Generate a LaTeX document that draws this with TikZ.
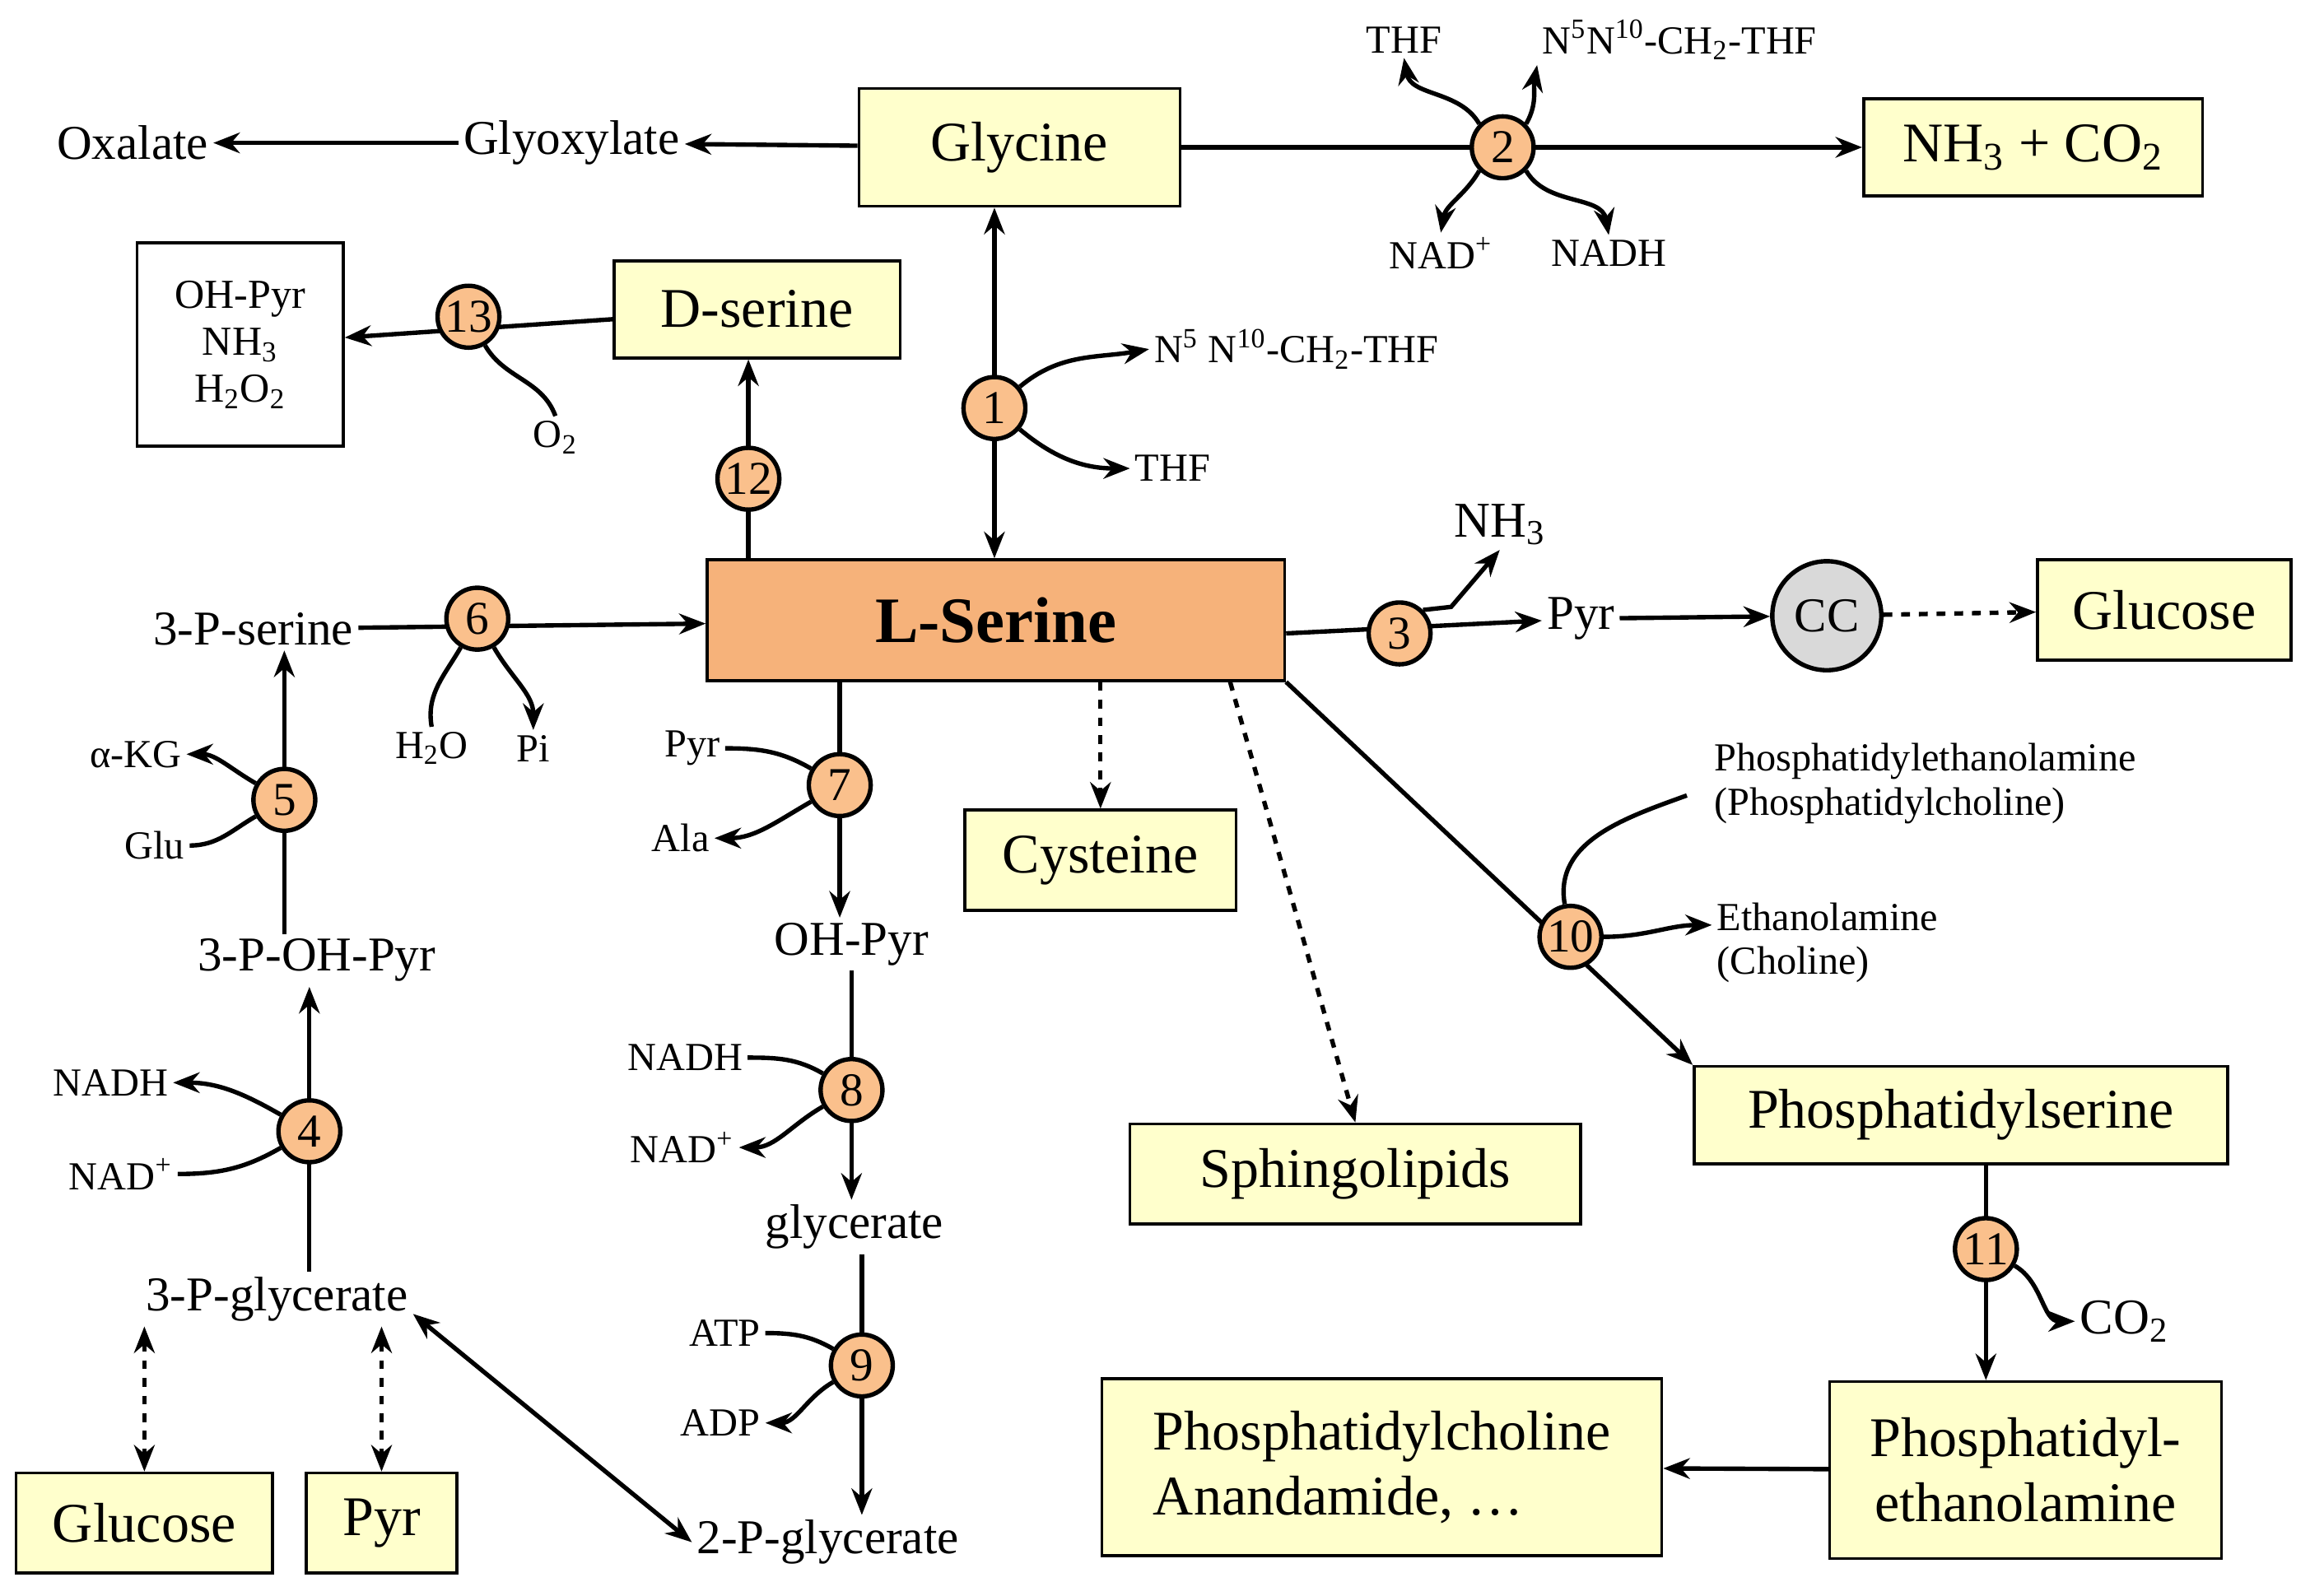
\documentclass[tikz,border=0pt]{standalone}
\usepackage{fontspec}
\setmainfont{Liberation Serif}
\usetikzlibrary{arrows.meta}
\usetikzlibrary{backgrounds}
\usetikzlibrary{shapes}
\definecolor{boxyellow}{RGB}{255,255,204}
\definecolor{enzorange}{RGB}{250,192,140}
\definecolor{serorange}{RGB}{246,178,122}
\newcommand{\pgfdefaultlinewidth}{1.5pt}
\newcommand{\sub}[1]{\textsubscript{#1}}
\newcommand{\sups}[1]{\textsuperscript{#1}}

\begin{document}
\begin{tikzpicture}[x = 0.5pt, y = -0.5pt, line width = \pgfdefaultlinewidth,
                    >={Stealth[length=9pt,width=7pt]},
                    route/.style = {line width = 1.5pt},
                    enzyme/.style = {draw, circle, fill = enzorange, inner sep = 0pt, minimum size = 21pt, font = \fontsize{16}{16}\selectfont},
                    product/.style = {draw, fill = boxyellow, line width = 1pt, align = center, font = \fontsize{19}{22}\selectfont, inner sep = 0pt},
                    metab/.style = {font = \fontsize{16.5}{19}\selectfont, inner sep = 1pt},
                    cofac/.style = {font = \fontsize{13.5}{15}\selectfont, inner sep = 1pt, align = left}]

    \useasboundingbox (0,0) rectangle (1568,1083);

    % boxes
    \node[product, minimum width = 109pt, minimum height = 40pt] (gly) at (692,100) {Glycine};
    \node[product, minimum width = 115pt, minimum height = 33pt] (nhco) at (1380,100) {NH\sub{3} + CO\sub{2}};
    \node[product, minimum width = 97pt, minimum height = 33pt] (dser) at (514,210) {D-serine};
    \node[draw, fill = white, line width = 1pt, align = center, minimum width = 70pt, minimum height = 69pt,
          font = \fontsize{14}{16}\selectfont] (ohbox) at (163,234) {OH-Pyr\\NH\sub{3}\\H\sub{2}O\sub{2}};
    \node[product, fill = serorange, minimum width = 196pt, minimum height = 41pt,
          font = \fontsize{22}{25}\selectfont\bfseries] (lser) at (676,421) {L-Serine};
    \node[product, minimum width = 86pt, minimum height = 34pt] (glucr) at (1469,414) {Glucose};
    \node[product, minimum width = 92pt, minimum height = 34pt] (cys) at (747,584) {Cysteine};
    \node[product, minimum width = 153pt, minimum height = 34pt] (sph) at (920,797) {Sphingolipids};
    \node[product, minimum width = 181pt, minimum height = 33pt] (pser) at (1331,757) {Phosphatidylserine};
    \node[product, minimum width = 133pt, minimum height = 60pt] (pe) at (1375,998) {Phosphatidyl-\\ethanolamine};
    \node[product, minimum width = 190pt, minimum height = 60pt, align = left] (pc) at (938,996) {Phosphatidylcholine\\Anandamide, \dots};
    \node[product, minimum width = 87pt, minimum height = 34pt] (glucl) at (98,1034) {Glucose};
    \node[product, minimum width = 51pt, minimum height = 34pt] (pyrb) at (259,1034) {Pyr};

    % metabolites
    \node[metab] (oxa) at (90,97) {Oxalate};
    \node[metab] (glyox) at (388,97) {Glyoxylate};
    \node[metab] (tpser) at (172,427) {3-P-serine};
    \node[metab] (tpohp) at (215,652) {3-P-OH-Pyr};
    \node[metab] (tpgly) at (188,882) {3-P-glycerate};
    \node[metab] (ohpyr) at (578,641) {OH-Pyr};
    \node[metab] (glyc) at (580,833) {glycerate};
    \node[metab] (twopg) at (562,1047) {2-P-glycerate};
    \node[metab] (pyr) at (1073,420) {Pyr};
    \node[draw, circle, fill = black!15, minimum size = 37pt, inner sep = 0pt, metab] (cc) at (1240,418) {CC};

    % enzymes
    \node[enzyme] (e1) at (675,277) {1};
    \node[enzyme] (e2) at (1020,100) {2};
    \node[enzyme] (e3) at (950,430) {3};
    \node[enzyme] (e4) at (210,768) {4};
    \node[enzyme] (e5) at (193,543) {5};
    \node[enzyme] (e6) at (324,420) {6};
    \node[enzyme] (e7) at (570,533) {7};
    \node[enzyme] (e8) at (578,740) {8};
    \node[enzyme] (e9) at (585,927) {9};
    \node[enzyme] (e10) at (1066,636) {10};
    \node[enzyme] (e11) at (1348,848) {11};
    \node[enzyme] (e12) at (508,325) {12};
    \node[enzyme] (e13) at (318,215) {13};

    % cofactors
    \node[cofac] (thf2) at (953,27) {THF};
    \node[cofac] (mthf2) at (1140,27) {N\sups{5}N\sups{10}-CH\sub{2}-THF};
    \node[cofac] (nad2) at (978,172) {NAD\sups{+}};
    \node[cofac] (nadh2) at (1092,172) {NADH};
    \node[cofac] (mthf1) at (880,237) {N\sups{5} N\sups{10}-CH\sub{2}-THF};
    \node[cofac] (thf1) at (796,318) {THF};
    \node[cofac] (otwo) at (377,297) {O\sub{2}};
    \node[cofac, font = \fontsize{17}{19}\selectfont] (nhthree) at (1018,356) {NH\sub{3}};
    \node[cofac] (water) at (293,508) {H\sub{2}O};
    \node[cofac] (pi) at (362,508) {Pi};
    \node[cofac] (akg) at (92,512) {α-KG};
    \node[cofac] (glu) at (105,574) {Glu};
    \node[cofac] (nadh4) at (75,735) {NADH};
    \node[cofac] (nad4) at (82,797) {NAD\sups{+}};
    \node[cofac] (pyr7) at (470,508) {Pyr};
    \node[cofac] (ala) at (462,569) {Ala};
    \node[cofac] (nadh8) at (465,718) {NADH};
    \node[cofac] (nad8) at (463,779) {NAD\sups{+}};
    \node[cofac] (atp) at (492,905) {ATP};
    \node[cofac] (adp) at (489,966) {ADP};
    \node[cofac, anchor = west] (pecho) at (1160,532) {Phosphatidylethanolamine\\(Phosphatidylcholine)};
    \node[cofac, anchor = west] (etha) at (1162,640) {Ethanolamine\\(Choline)};
    \node[cofac, font = \fontsize{17}{19}\selectfont] (cotwo) at (1442,897) {CO\sub{2}};
    \coordinate (nhkink) at (985,412);

    \begin{scope}[on background layer]
    % main routes
    \draw[route, ->] (gly) -- (glyox);
    \draw[route, ->] (glyox) -- (oxa);
    \draw[route, ->] (gly) -- (nhco);
    \draw[route, ->] (dser) -- (ohbox);
    \draw[route, ->] (e12 |- lser.north) -- (e12 |- dser.south);
    \draw[route, <->] (e1 |- gly.south) -- (e1 |- lser.north);
    \draw[route, ->] (tpser) -- (lser);
    \draw[route, ->] (lser.east |- e3) -- (pyr);
    \draw[route, ->] (pyr) -- (cc);
    \draw[route, ->, dashed] (cc) -- (glucr);
    \draw[route, ->] (e5 |- tpohp.north) -- (e5 |- tpser.south);
    \draw[route, ->] (e4 |- tpgly.north) -- (e4 |- tpohp.south);
    \draw[route, <->, dashed] (glucl.north |- tpgly.south) -- (glucl.north);
    \draw[route, <->, dashed] (pyrb.north |- tpgly.south) -- (pyrb.north);
    \draw[route, <->] (tpgly.east) ++(0,10) -- (twopg.west);
    \draw[route, ->] (e7 |- lser.south) -- (e7 |- ohpyr.north);
    \draw[route, ->] (e8 |- ohpyr.south) -- (e8 |- glyc.north);
    \draw[route, ->] (e9 |- glyc.south) -- (e9 |- twopg.north);
    \draw[route, ->, dashed] (cys.north |- lser.south) -- (cys.north);
    \draw[route, ->, dashed] (lser.south east) ++(-38,0) -- (sph.north);
    \draw[route, ->] (lser.south east) -- (pser.north west);
    \draw[route, ->] (e11 |- pser.south) -- (e11 |- pe.north);
    \draw[route, ->] (pe) -- (pc);
    \end{scope}

    % side reactions
    \draw[->] (e2.north west) to[out = 120, in = -80] (thf2.south);
    \draw[->] (e2.north east) to[out = 60, in = -100] (mthf2.south west);
    \draw[->] (e2.south west) to[out = -120, in = 80] (nad2.north);
    \draw[->] (e2.south east) to[out = -60, in = 100] (nadh2.north);
    \draw[->] (e1) to[out = 40, in = 190] (mthf1.west);
    \draw[->] (e1) to[out = -40, in = 180] (thf1.west);
    \draw (otwo.north) to[out = 110, in = -60] (e13);
    \draw[->] (e3.north east) -- (nhkink) -- (nhthree.south);
    \draw (water.north) to[out = 100, in = -120] (e6);
    \draw[->] (e6) to[out = -60, in = 90] (pi.north);
    \draw[->] (e5) to[out = 150, in = 0] (akg.east);
    \draw (glu.east) to[out = 0, in = -150] (e5);
    \draw[->] (e4) to[out = 150, in = 0] (nadh4.east);
    \draw (nad4.east) to[out = 0, in = -150] (e4);
    \draw (pyr7.east) to[out = 0, in = 150] (e7);
    \draw[->] (e7) to[out = -150, in = 0] (ala.east);
    \draw (nadh8.east) to[out = 0, in = 150] (e8);
    \draw[->] (e8) to[out = -150, in = 0] (nad8.east);
    \draw (atp.east) to[out = 0, in = 150] (e9);
    \draw[->] (e9) to[out = -150, in = 0] (adp.east);
    \draw (1145,540) to[out = 200, in = 100] (e10);
    \draw[->] (e10) to[out = 0, in = 180] (etha.west |- 0,628);
    \draw[->] (e11) to[out = -30, in = 180] (cotwo.west);

\end{tikzpicture}
\end{document}
